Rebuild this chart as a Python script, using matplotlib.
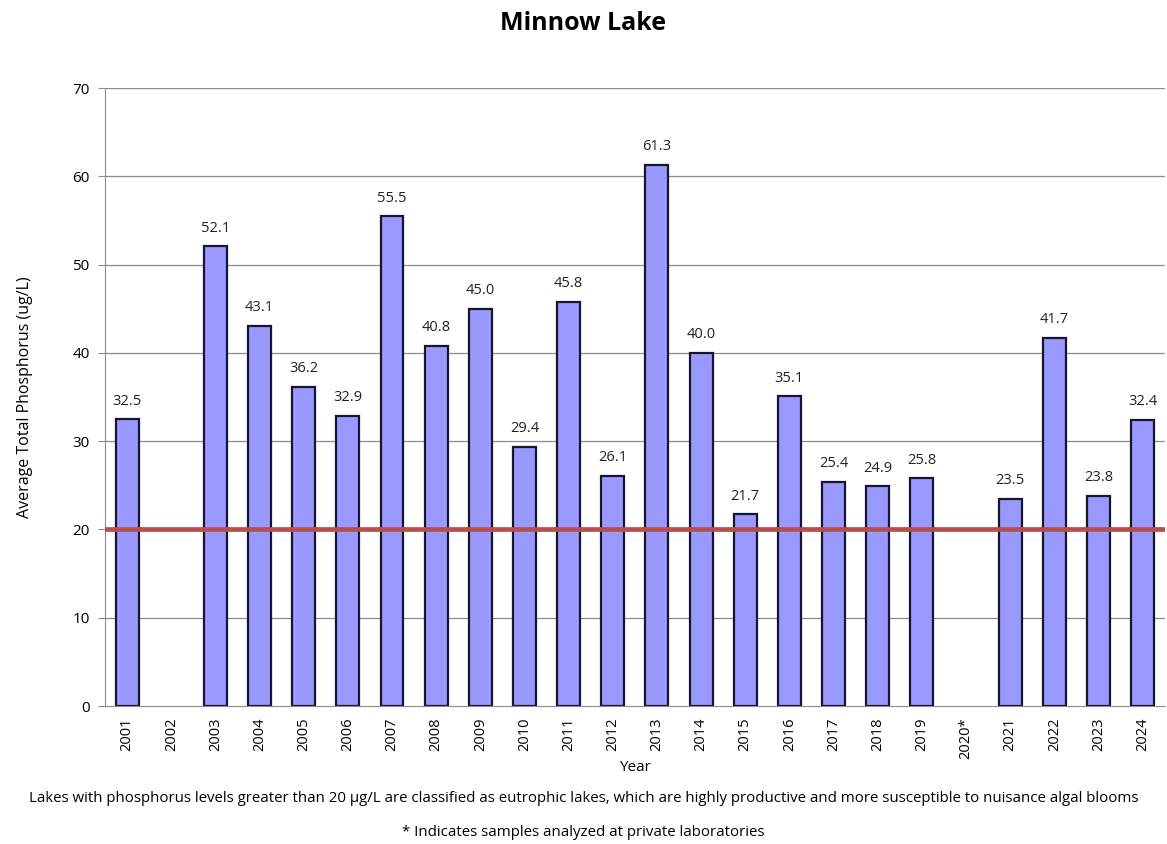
import matplotlib
matplotlib.use("Agg")
import matplotlib.pyplot as plt
import numpy as np

# Dados
years = ["2001", "2002", "2003", "2004", "2005", "2006", "2007", "2008", "2009", "2010",
         "2011", "2012", "2013", "2014", "2015", "2016", "2017", "2018", "2019", "2020*",
         "2021", "2022", "2023", "2024"]
phosphorus = [32.5, None, 52.1, 43.1, 36.2, 32.9, 55.5, 40.8, 45.0, 29.4,
              45.8, 26.1, 61.3, 40.0, 21.7, 35.1, 25.4, 24.9, 25.8, None,
              23.5, 41.7, 23.8, 32.4]
threshold = 20
y_ticks = [0, 10, 20, 30, 40, 50, 60, 70]

plt.rcParams["font.family"] = ["Open Sans", "DejaVu Sans"]

fig = plt.figure(figsize=(11.67, 8.44), dpi=100)
ax = fig.add_axes([0.09, 0.1635, 0.908, 0.732])

x = np.arange(len(years))
vals = np.array([np.nan if v is None else v for v in phosphorus])

for yt in y_ticks[1:]:
    ax.axhline(yt, color="#8c8c8c", linewidth=0.9, zorder=0)

bars = ax.bar(x, np.nan_to_num(vals), width=0.52, color="#9999ff",
              edgecolor="#151530", linewidth=1.6, zorder=2)
for xi, v, b in zip(x, vals, bars):
    if np.isnan(v):
        b.set_visible(False)
        continue
    ax.text(xi, v + 1.2, f"{v:.1f}", ha="center", va="bottom", fontsize=10.5, color="#222222")

ax.axhline(threshold, color="#b4504c", linewidth=3.4, zorder=3)

ax.set_xlim(-0.5, len(years) - 0.5)
ax.set_ylim(0, 70)
ax.set_yticks(y_ticks)
ax.set_xticks(x)
ax.set_xticklabels(years, rotation=90, fontsize=10.5)
ax.tick_params(axis="y", labelsize=11, length=5, color="#8c8c8c", pad=6)
ax.tick_params(axis="x", length=0, pad=8)

for s in ["top", "right"]:
    ax.spines[s].set_visible(False)
for s in ["left", "bottom"]:
    ax.spines[s].set_color("#8c8c8c")

ax.set_ylabel("Average Total Phosphorus (ug/L)", fontsize=11.5, labelpad=28)
ax.set_xlabel("Year", fontsize=11, labelpad=1)

fig.text(0.5, 0.972, "Minnow Lake", ha="center", va="center", fontsize=18, fontweight="bold")
fig.text(0.5, 0.054, "Lakes with phosphorus levels greater than 20 µg/L are classified as eutrophic lakes, "
         "which are highly productive and more susceptible to nuisance algal blooms",
         ha="center", va="center", fontsize=10.8)
fig.text(0.5, 0.014, "* Indicates samples analyzed at private laboratories",
         ha="center", va="center", fontsize=10.8)

fig.savefig("out.png", dpi=100)
